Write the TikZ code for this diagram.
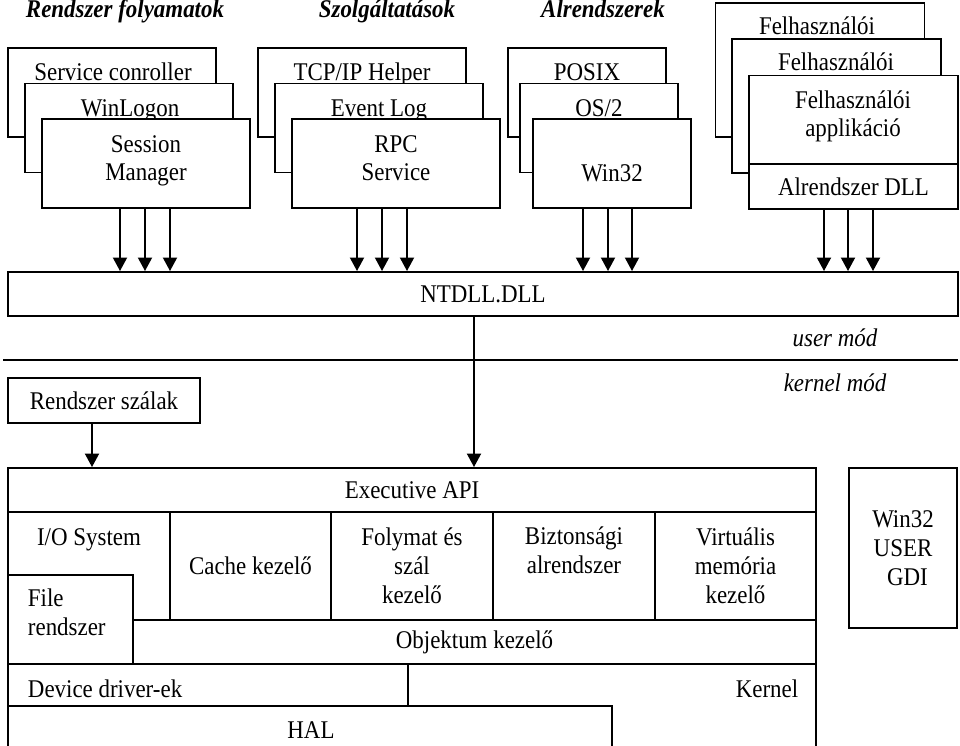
\documentclass[tikz,border=0pt]{standalone}
\usepackage{fontspec}
\setmainfont{Liberation Serif}[FakeStretch=0.9]
\usetikzlibrary{calc,arrows.meta}
\newcommand{\basefont}{\fontsize{14.5}{16.5}\selectfont}
\tikzset{
	card/.style  = {draw, fill=white, inner sep=0pt, align=center, font=\basefont},
	proc/.style  = {card, minimum width=4.16cm, minimum height=1.78cm},
	subsys/.style = {card, minimum width=3.16cm, minimum height=1.78cm},
	app/.style   = {card, minimum width=4.18cm, minimum height=2.68cm},
	cell/.style  = {card, minimum width=3.24cm, minimum height=2.16cm},
	lbl/.style   = {anchor=base, align=center, inner sep=0pt, font=\basefont},
	title/.style = {anchor=base, inner sep=0pt, font=\basefont\bfseries\itshape},
	mode/.style  = {anchor=base, inner sep=0pt, font=\basefont\itshape},
	flow/.style  = {-{Triangle[length=0.27cm,width=0.28cm]}}
}

\begin{document}
\begin{tikzpicture}[x=0.02cm, y=-0.02cm, line width=1.1pt]
\useasboundingbox (0,0) rectangle (960,746);
\clip (0,0) rectangle (960,746);

% headings
\node[title] (h-proc) at (125,18) {Rendszer folyamatok};
\node[title] (h-svc) at (387,18) {Szolgáltatások};
\node[title] (h-sub) at (603,18) {Alrendszerek};

% Rendszer folyamatok
\node[proc] (sc) at (112,92.5) {};
\node[lbl] (sc-t) at (113,81) {Service conroller};
\node[proc] (wl) at (129,128) {};
\node[lbl] (wl-t) at (130,117) {WinLogon};
\node[proc] (sm) at (146,163.5) {};
\node[lbl] (sm-t) at (146,181) {Session\\Manager};

% Szolgaltatasok
\node[proc] (tcp) at (362,92.5) {};
\node[lbl] (tcp-t) at (362,81) {TCP/IP Helper};
\node[proc] (ev) at (379,128) {};
\node[lbl] (ev-t) at (379,117) {Event Log};
\node[proc] (rpc) at (396,163.5) {};
\node[lbl] (rpc-t) at (396,181) {RPC\\Service};

% Alrendszerek
\node[subsys] (posix) at (587,92.5) {};
\node[lbl] (posix-t) at (587,81) {POSIX};
\node[subsys] (os2) at (599,128) {};
\node[lbl] (os2-t) at (599,117) {OS/2};
\node[subsys] (w32) at (612,163.5) {};
\node[lbl] (w32-t) at (612,182) {Win32};

% Felhasznaloi applikaciok
\node[app] (fa) at (820,70) {};
\node[lbl] (fa-t) at (817,35) {Felhasználói};
\node[app] (fb) at (836.5,106) {};
\node[lbl] (fb-t) at (836,71) {Felhasználói};
\node[app] (fc) at (853.5,142.5) {};
\node[lbl] (fc-t) at (853,137) {Felhasználói\\applikáció};
\node[card, minimum width=4.18cm, minimum height=0.9cm] (dll) at (853.5,186.5) {Alrendszer DLL};

% NTDLL
\node[card, minimum width=19cm, minimum height=0.88cm] (nt) at (483,294) {NTDLL.DLL};
\foreach \dx in {-26,-1,24}
	\draw[flow] ($(sm.south)+(\dx,0)$) -- ($(sm.south |- nt.north)+(\dx,0)$);
\foreach \dx in {-39,-14,11}
	\draw[flow] ($(rpc.south)+(\dx,0)$) -- ($(rpc.south |- nt.north)+(\dx,0)$);
\foreach \dx in {-29,-4,20}
	\draw[flow] ($(w32.south)+(\dx,0)$) -- ($(w32.south |- nt.north)+(\dx,0)$);
\foreach \dx in {-29.5,-5.5,19.5}
	\draw[flow] ($(dll.south)+(\dx,0)$) -- ($(dll.south |- nt.north)+(\dx,0)$);

% user / kernel
\coordinate (ml) at (3,360);
\coordinate (mr) at (958,360);
\draw (ml) -- (mr);
\node[mode] (um) at (835,347) {user mód};
\node[mode] (km) at (835,392) {kernel mód};
\node[card, minimum width=3.84cm, minimum height=0.9cm] (rs) at (104,400.5) {Rendszer szálak};

% Executive
\node[card, minimum width=16.16cm, minimum height=6.24cm] (ex) at (412,624) {};
\node[card, minimum width=16.16cm, minimum height=0.88cm] (api) at (412,490) {Executive API};
\node[cell] (io) at (89,566) {};
\node[lbl] (io-t) at (89,545) {I/O System};
\node[cell, minimum width=3.22cm] (cache) at (250.5,566) {Cache kezelő};
\node[cell] (fsz) at (412,566) {Folymat és\\szál\\kezelő};
\node[cell] (bizt) at (574,566) {};
\node[lbl] (bizt-t) at (574,573) {Biztonsági\\alrendszer};
\node[cell, minimum width=3.22cm] (virt) at (735.5,566) {Virtuális\\memória\\kezelő};
\node[card, minimum width=13.66cm, minimum height=0.88cm] (obj) at (474.5,642) {Objektum kezelő};
\node[card, minimum width=2.5cm, minimum height=1.78cm] (fr) at (70.5,619.5) {};
\node[lbl, anchor=base west, align=left] (fr-t) at (27,635) {File\\rendszer};
\node[card, minimum width=8cm, minimum height=0.84cm] (dd) at (208,685) {};
\node[lbl, anchor=base west] (dd-t) at (27,697) {Device driver-ek};
\node[lbl] (kern-t) at (767,697) {Kernel};
\node[card, minimum width=12.08cm, minimum height=1.68cm] (hal) at (310,748) {};
\node[lbl] (hal-t) at (311,738) {HAL};
\node[card, minimum width=2.16cm, minimum height=3.2cm] (gdi) at (903,548) {Win32\\USER\\\hspace*{.35em}GDI};

\draw[flow] ($(nt.south)+(-9,0)$) -- ($(nt.south |- ex.north)+(-9,0)$);
\draw[flow] ($(rs.south)+(-12,0)$) -- ($(rs.south |- ex.north)+(-12,0)$);
\end{tikzpicture}
\end{document}
